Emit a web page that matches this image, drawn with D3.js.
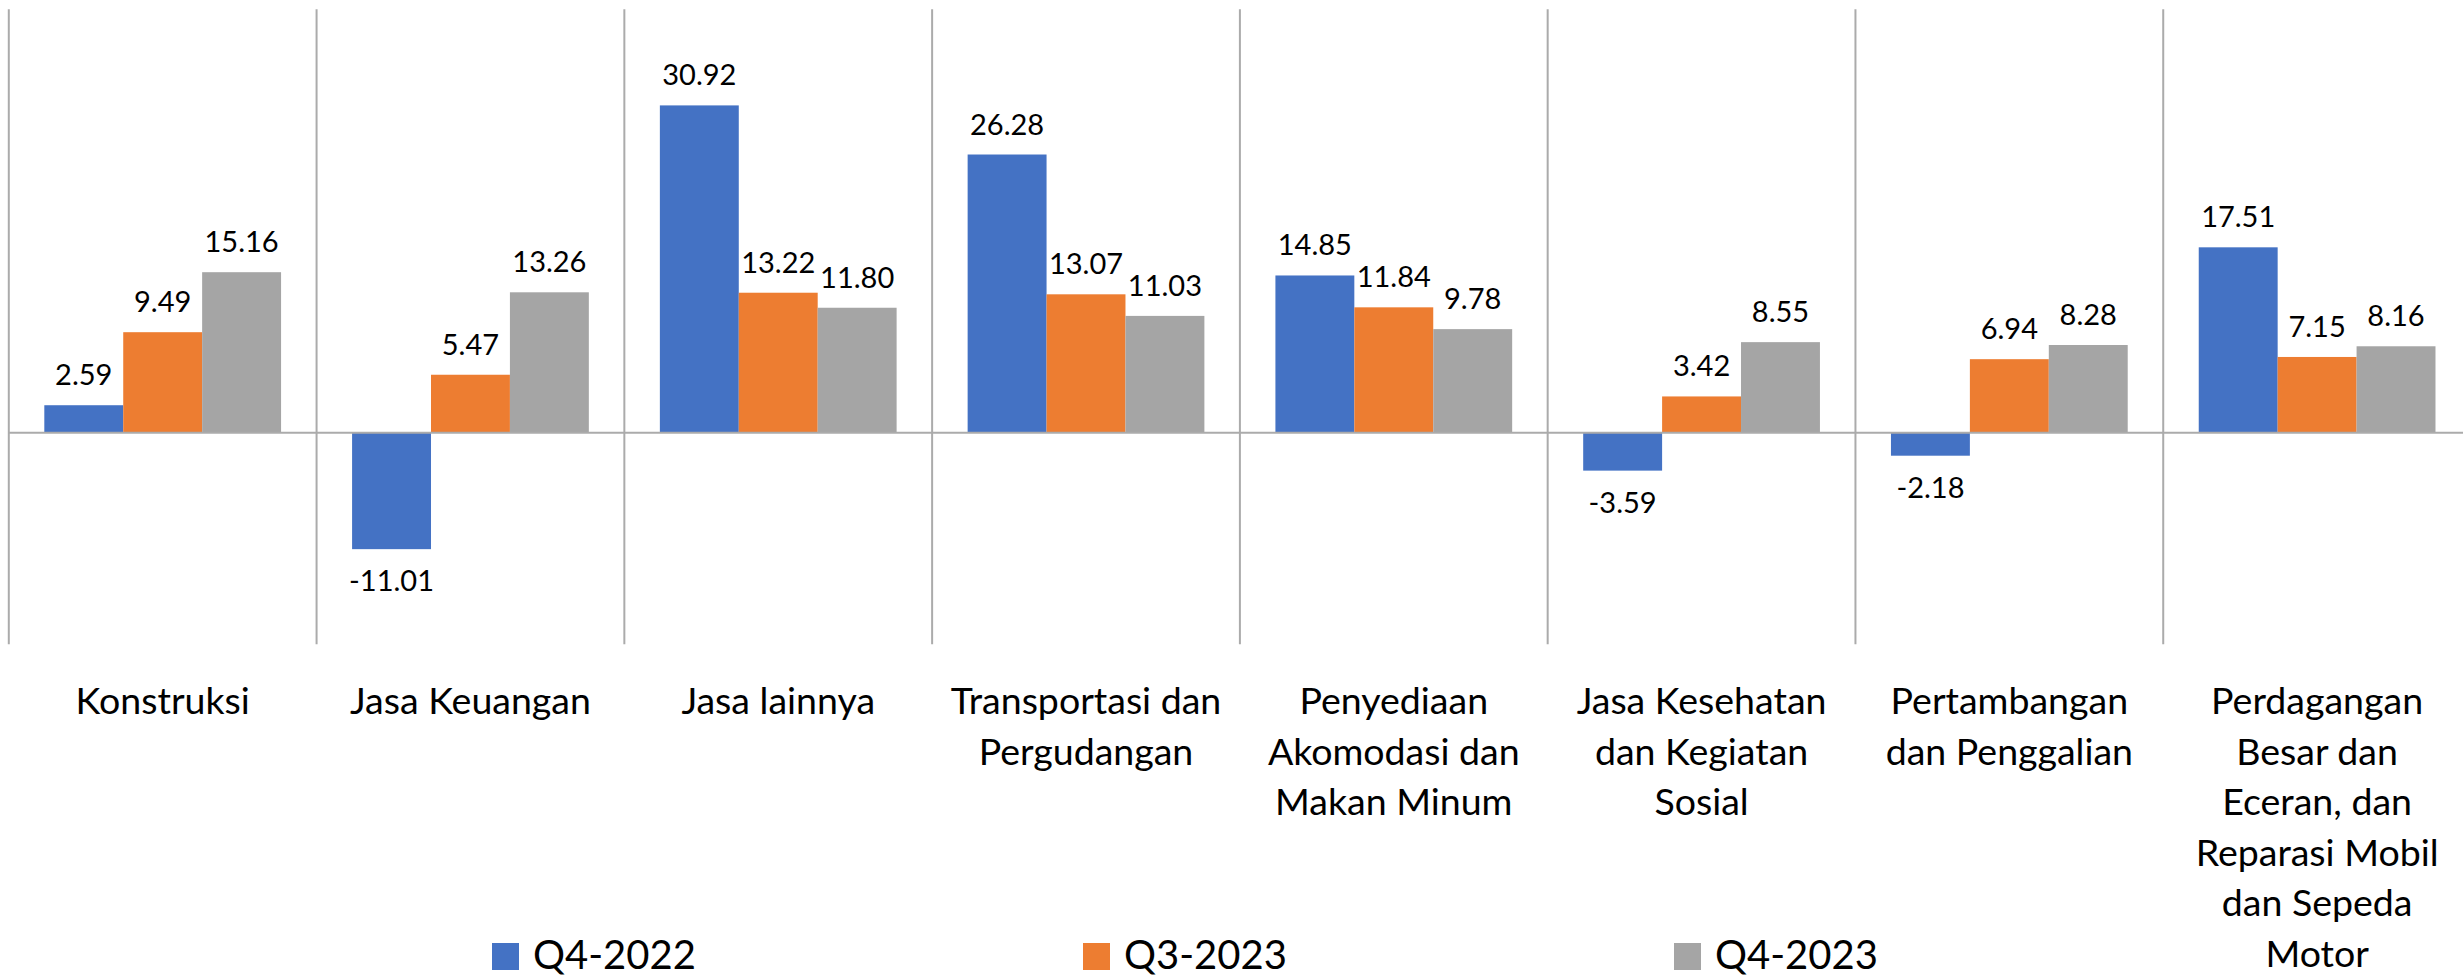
<!DOCTYPE html>
<html>
<head>
<meta charset="utf-8">
<script src="https://cdn.jsdelivr.net/npm/d3@7"></script>
<style>
  body { margin: 0; background: #fff; }
  text { font-family: Lato, "Open Sans", sans-serif; fill: #000; }
</style>
</head>
<body>
<div id="chart"></div>
<script>
  // data
  const categories = [
    "Konstruksi",
    "Jasa Keuangan",
    "Jasa lainnya",
    "Transportasi dan Pergudangan",
    "Penyediaan Akomodasi dan Makan Minum",
    "Jasa Kesehatan dan Kegiatan Sosial",
    "Pertambangan dan Penggalian",
    "Perdagangan Besar dan Eceran, dan Reparasi Mobil dan Sepeda Motor"
  ];
  const seriesNames = ["Q4-2022", "Q3-2023", "Q4-2023"];
  const q4_2022 = [2.59, -11.01, 30.92, 26.28, 14.85, -3.59, -2.18, 17.51];
  const q3_2023 = [9.49, 5.47, 13.22, 13.07, 11.84, 3.42, 6.94, 7.15];
  const q4_2023 = [15.16, 13.26, 11.80, 11.03, 9.78, 8.55, 8.28, 8.16];
  const colors = ["#4472C4", "#ED7D31", "#A5A5A5"];

  const width = 2463;
  const height = 977;
  const plot = { left: 8.8, right: 2471, top: 9.3, bottom: 644.3 };

  const seriesValues = [q4_2022, q3_2023, q4_2023];
  const rows = [];
  categories.forEach((c, i) => {
    seriesNames.forEach((s, j) => {
      rows.push({ cat: c, series: s, value: seriesValues[j][i] });
    });
  });

  const svg = d3.select("#chart")
    .append("svg")
    .attr("width", width)
    .attr("height", height);

  // scales
  const x0 = d3.scaleBand()
    .domain(categories)
    .range([plot.left, plot.right])
    .padding(0);

  const x1 = d3.scaleBand()
    .domain(seriesNames)
    .range([0, x0.bandwidth()])
    .paddingInner(0)
    .paddingOuter(0.45);

  const y = d3.scaleLinear()
    .domain([-20, 40])
    .range([plot.bottom, plot.top]);

  const color = d3.scaleOrdinal().domain(seriesNames).range(colors);

  // vertical gridlines between categories
  const gridX = categories.map(c => x0(c)).concat([x0.range()[1]]);
  svg.append("g")
    .selectAll("line")
    .data(gridX)
    .join("line")
    .attr("x1", d => d)
    .attr("x2", d => d)
    .attr("y1", y(40))
    .attr("y2", y(-20))
    .attr("stroke", "#ABABAB")
    .attr("stroke-width", 2);

  // bars
  svg.append("g")
    .selectAll("rect")
    .data(rows)
    .join("rect")
    .attr("x", d => x0(d.cat) + x1(d.series))
    .attr("y", d => y(Math.max(0, d.value)))
    .attr("width", x1.bandwidth())
    .attr("height", d => Math.abs(y(d.value) - y(0)))
    .attr("fill", d => color(d.series));

  // zero line
  svg.append("line")
    .attr("x1", plot.left)
    .attr("x2", plot.right)
    .attr("y1", y(0))
    .attr("y2", y(0))
    .attr("stroke", "#ABABAB")
    .attr("stroke-width", 2);

  // value labels (plain hyphen for negatives, like the source)
  const fmt = d3.formatLocale({
    decimal: ".", thousands: ",", grouping: [3], currency: ["", ""], minus: "-"
  }).format(".2f");
  svg.append("g")
    .selectAll("text")
    .data(rows)
    .join("text")
    .attr("x", d => x0(d.cat) + x1(d.series) + x1.bandwidth() / 2)
    .attr("y", d => d.value >= 0 ? y(d.value) - 20 : y(d.value) + 42)
    .attr("text-anchor", "middle")
    .style("font-size", "29px")
    .text(d => fmt(d.value));

  // category labels, wrapped to fit
  const labelSize = 37.5;
  const lineHeight = 50.5;
  const wrapWidth = 285;
  const catLabels = svg.append("g")
    .selectAll("text")
    .data(categories)
    .join("text")
    .attr("x", d => x0(d) + x0.bandwidth() / 2)
    .attr("y", 714)
    .attr("text-anchor", "middle")
    .style("font-size", labelSize + "px");

  catLabels.each(function(d) {
    const el = d3.select(this);
    const words = d.split(" ");
    let line = [];
    let tspan = el.append("tspan").attr("x", el.attr("x")).attr("dy", 0);
    words.forEach(w => {
      line.push(w);
      tspan.text(line.join(" "));
      if (tspan.node().getComputedTextLength() > wrapWidth && line.length > 1) {
        line.pop();
        tspan.text(line.join(" "));
        line = [w];
        tspan = el.append("tspan").attr("x", el.attr("x")).attr("dy", lineHeight).text(w);
      }
    });
  });

  // legend
  const legend = svg.append("g")
    .selectAll("g")
    .data(seriesNames)
    .join("g")
    .attr("transform", (d, i) => `translate(${492 + i * 591}, 943)`);

  legend.append("rect")
    .attr("width", 27)
    .attr("height", 27)
    .attr("fill", d => color(d));

  legend.append("text")
    .attr("x", 41)
    .attr("y", 26)
    .style("font-size", "40px")
    .text(d => d);
</script>
</body>
</html>
